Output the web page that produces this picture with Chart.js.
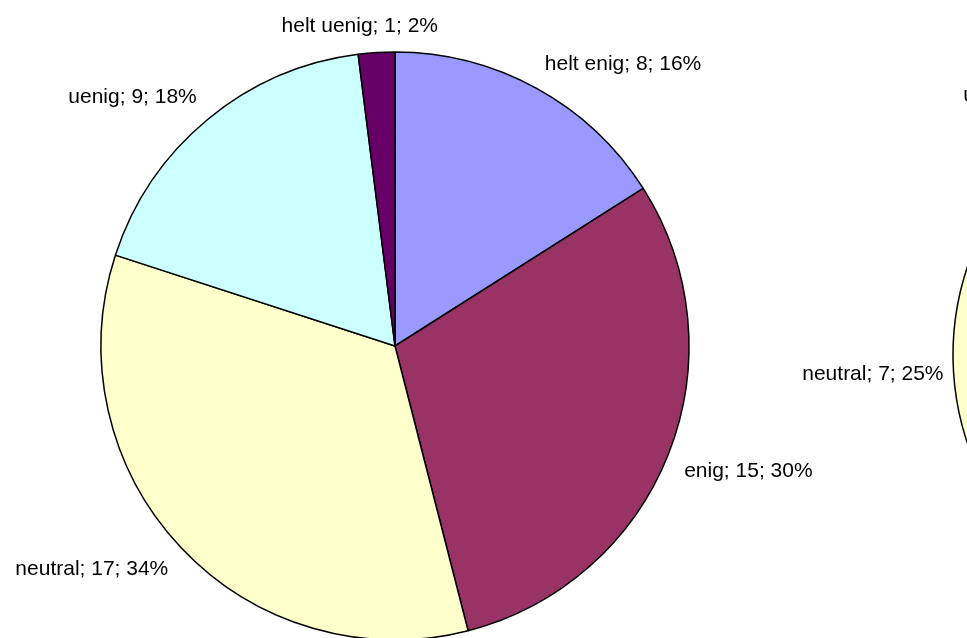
<!DOCTYPE html>
<html>
<head>
<meta charset="utf-8">
<script src="https://cdn.jsdelivr.net/npm/chart.js@4/dist/chart.umd.min.js"></script>
<style>
  html, body { margin: 0; padding: 0; background: #fff; }
  body { width: 967px; height: 638px; overflow: hidden; position: relative; }
  canvas { position: absolute; top: 0; }
  #pieLeft { left: 0; }
  #pieRight { left: 700px; }
</style>
</head>
<body>
<canvas id="pieLeft" width="967" height="692"></canvas>
<canvas id="pieRight" width="1060" height="710"></canvas>
<script>
// answer categories, same order in both pies
const categories = ['helt enig', 'enig', 'neutral', 'uenig', 'helt uenig'];
// counts for the main pie (left) and the second pie (only its edge is visible)
const valuesLeft = [8, 15, 17, 9, 1];
const valuesRight = [6, 11, 7, 3, 1];

const sliceColors = ['#9999FF', '#993366', '#FFFFCC', '#CCFFFF', '#660066'];

// excel style labels "name; value; pct%" outside the slices
const outsideLabels = {
    id: 'outsideLabels',
    afterDraw(chart, args, opts) {
        const ctx = chart.ctx;
        const ds = chart.data.datasets[0];
        const total = ds.data.reduce((a, b) => a + b, 0);
        const meta = chart.getDatasetMeta(0);
        const gap = opts.gap || 17;
        ctx.save();
        ctx.font = '21px "Liberation Sans", Arial, sans-serif';
        ctx.fillStyle = '#000';
        ctx.textBaseline = 'top';
        ctx.textAlign = 'left';
        const h = 20;
        meta.data.forEach((arc, i) => {
            const p = arc.getProps(['x', 'y', 'startAngle', 'endAngle', 'outerRadius'], true);
            const mid = (p.startAngle + p.endAngle) / 2;
            const hx = Math.cos(mid), vy = Math.sin(mid);
            const dist = p.outerRadius + gap;
            const px = p.x + hx * dist, py = p.y + vy * dist;
            const pct = Math.round(ds.data[i] / total * 100);
            const txt = chart.data.labels[i] + '; ' + ds.data[i] + '; ' + pct + '%';
            const w = ctx.measureText(txt).width;
            const hf = Math.min(1, Math.max(0, 0.5 - 1.6 * hx));
            const vf = Math.min(1, Math.max(0, 0.5 - 1.6 * vy));
            ctx.fillText(txt, px - w * hf, py - h * vf);
        });
        ctx.restore();
    }
};

function make_pie(id, values, radius, padding, rotation, gap) {
    const ctx = document.getElementById(id);
    return new Chart(ctx, {
        type: 'pie',
        data: {
            labels: categories,
            datasets: [{
                data: values,
                backgroundColor: sliceColors,
                borderColor: '#000',
                borderWidth: 1.5,
                radius: radius
            }]
        },
        options: {
            responsive: false,
            animation: false,
            rotation: rotation,
            layout: { padding: padding },
            plugins: {
                legend: { display: false },
                tooltip: { enabled: false },
                outsideLabels: { gap: gap }
            }
        },
        plugins: [outsideLabels]
    });
}

make_pie('pieLeft', valuesLeft, 294, { right: 177 }, 0, 17);
make_pie('pieRight', valuesRight, 277, 0, 3, 10);
</script>
</body>
</html>
